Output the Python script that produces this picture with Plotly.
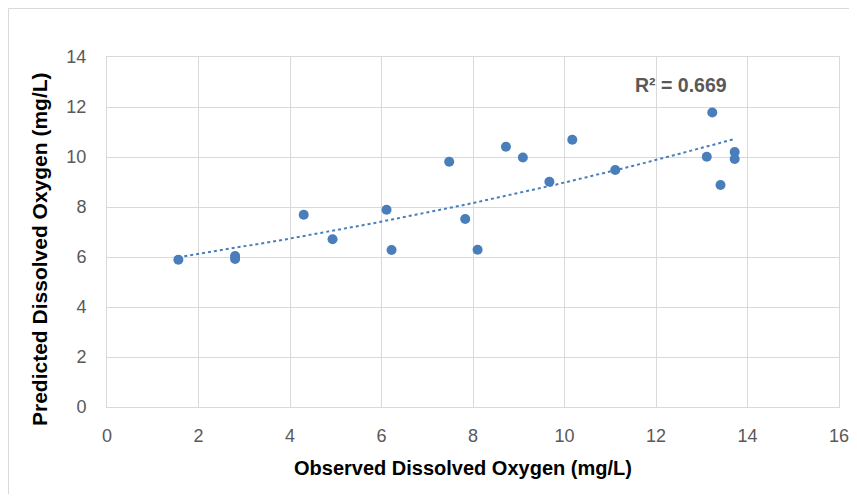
import numpy as np
import plotly.graph_objects as go

observed = [1.56, 2.80, 2.80, 4.30, 4.93, 6.11, 6.22, 7.48, 7.83, 8.10,
            8.72, 9.09, 9.67, 10.17, 11.11, 13.11, 13.23, 13.41, 13.72, 13.72]
predicted = [5.89, 6.04, 5.92, 7.69, 6.71, 7.89, 6.28, 9.81, 7.52, 6.29,
             10.41, 9.98, 9.01, 10.69, 9.48, 10.01, 11.78, 8.88, 10.20, 9.92]
r2_label = "R² = 0.669"
x_ticks = [0, 2, 4, 6, 8, 10, 12, 14, 16]
y_ticks = [0, 2, 4, 6, 8, 10, 12, 14]

BLUE = "#4A7EBB"
GRAY = "#595959"
GRID = "#D9D9D9"
FONT = "Liberation Sans, Arial, sans-serif"

# exponential trendline fitted to the data (as Excel does)
xo = np.array(observed)
yo = np.array(predicted)
b, ln_a = np.polyfit(xo, np.log(yo), 1)
xt = np.linspace(xo.min(), xo.max(), 100)
yt = np.exp(ln_a) * np.exp(b * xt)

# page body has an 8px margin: figure occupies (8,8)-(849,494) -> page fits 857x502
W, H = 841, 486
L, T, R, B = 99, 49, 10, 87
PW, PH = W - L - R, H - T - B  # 732 x 350
# absolute page px -> paper coords (plot area starts at page x=107, y=57)
def px(x):
    return (x - 107) / PW
def py(y):
    return (407 - y) / PH

fig = go.Figure()
fig.add_trace(go.Scatter(x=observed, y=predicted, mode="markers",
                         marker=dict(color=BLUE, size=10, line=dict(width=0)),
                         showlegend=False))
fig.add_trace(go.Scatter(x=xt, y=yt, mode="lines",
                         line=dict(color=BLUE, width=2, dash="dot"),
                         showlegend=False))

fig.update_layout(
    width=W, height=H,
    margin=dict(l=L, r=R, t=T, b=B, autoexpand=False),
    paper_bgcolor="white", plot_bgcolor="white",
    font=dict(family=FONT, color=GRAY, size=18),
    xaxis=dict(range=[0, 16], tickvals=x_ticks, showgrid=True, gridcolor=GRID,
               gridwidth=1, zeroline=False, showline=True, linecolor=GRID,
               mirror=True, ticks="", tickfont=dict(size=18, color=GRAY),
               ticklabelstandoff=12, ticklabeloverflow="allow", automargin=False),
    yaxis=dict(range=[0, 14], tickvals=y_ticks, showgrid=True, gridcolor=GRID,
               gridwidth=1, zeroline=False, showline=True, linecolor=GRID,
               mirror=True, ticks="", tickfont=dict(size=18, color=GRAY),
               ticklabelstandoff=16, ticklabeloverflow="allow", automargin=False),
    shapes=[dict(type="rect", xref="paper", yref="paper",
                 x0=px(8.5), y0=py(560), x1=px(900), y1=py(8.5),
                 line=dict(color=GRID, width=1), layer="below")],
    annotations=[
        dict(text="<b>Observed Dissolved Oxygen (mg/L)</b>", xref="paper", yref="paper",
             x=px(463), y=py(468), xanchor="center", yanchor="middle",
             showarrow=False, font=dict(size=20, color="black", family=FONT)),
        dict(text="<b>Predicted Dissolved Oxygen (mg/L)</b>", xref="paper", yref="paper",
             x=px(39), y=py(249), xanchor="center", yanchor="middle",
             textangle=-90, showarrow=False,
             font=dict(size=21, color="black", family=FONT)),
        dict(text="<b>" + r2_label + "</b>", xref="paper", yref="paper",
             x=px(681), y=py(85), xanchor="center", yanchor="middle",
             showarrow=False, font=dict(size=19.5, color=GRAY, family=FONT)),
    ],
)

fig.write_html("out.html")
